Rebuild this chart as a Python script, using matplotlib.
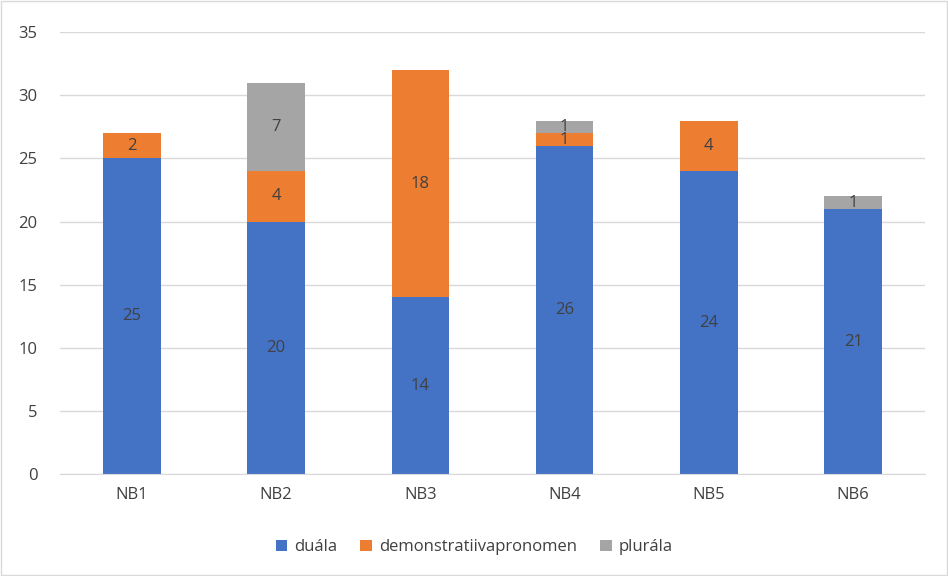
import matplotlib.pyplot as plt
import numpy as np
from matplotlib.patches import Rectangle

categories = ['NB1', 'NB2', 'NB3', 'NB4', 'NB5', 'NB6']
duala = [25, 20, 14, 26, 24, 21]
demonstr = [2, 4, 18, 1, 4, 0]
plurala = [0, 7, 0, 1, 0, 1]

series = [
    ('duála', duala, '#4472C4'),
    ('demonstratiivapronomen', demonstr, '#ED7D31'),
    ('plurála', plurala, '#A5A5A5'),
]

plt.rcParams['font.family'] = ['Open Sans', 'DejaVu Sans']
text_color = '#404040'

fig = plt.figure(figsize=(9.48, 5.76), dpi=100)
ax = fig.add_axes([0.063, 0.177, 0.913, 0.767])

x = np.arange(len(categories))
bottom = np.zeros(len(categories))
for name, vals, color in series:
    vals = np.array(vals, dtype=float)
    ax.bar(x, vals, 0.4, bottom=bottom, color=color, label=name, zorder=2)
    for xi, b, v in zip(x, bottom, vals):
        if v > 0:
            ax.text(xi, b + v / 2, f'{int(v)}', ha='center', va='center',
                    fontsize=12, color=text_color, zorder=3)
    bottom += vals

ax.set_xlim(-0.5, len(categories) - 0.5)
ax.set_ylim(0, 35)
ax.set_yticks(range(0, 36, 5))
ax.set_xticks(x)
ax.set_xticklabels(categories)
ax.yaxis.grid(True, color='#D9D9D9', linewidth=1, zorder=0)
ax.set_axisbelow(True)
for side in ['top', 'right', 'left']:
    ax.spines[side].set_visible(False)
ax.spines['bottom'].set_color('#D9D9D9')
ax.tick_params(axis='both', length=0, labelsize=12, labelcolor=text_color)
ax.tick_params(axis='y', pad=16)
ax.tick_params(axis='x', pad=9)

fig.legend(loc='center', bbox_to_anchor=(0.5, 0.05), ncol=3, frameon=False,
           fontsize=12, labelcolor=text_color, handlelength=0.7,
           handleheight=0.7, handletextpad=0.4, columnspacing=1.4)

fig.add_artist(Rectangle((0.001, 0.001), 0.998, 0.998, transform=fig.transFigure,
                         fill=False, edgecolor='#D9D9D9', linewidth=1))

fig.savefig('out.png', dpi=100)
